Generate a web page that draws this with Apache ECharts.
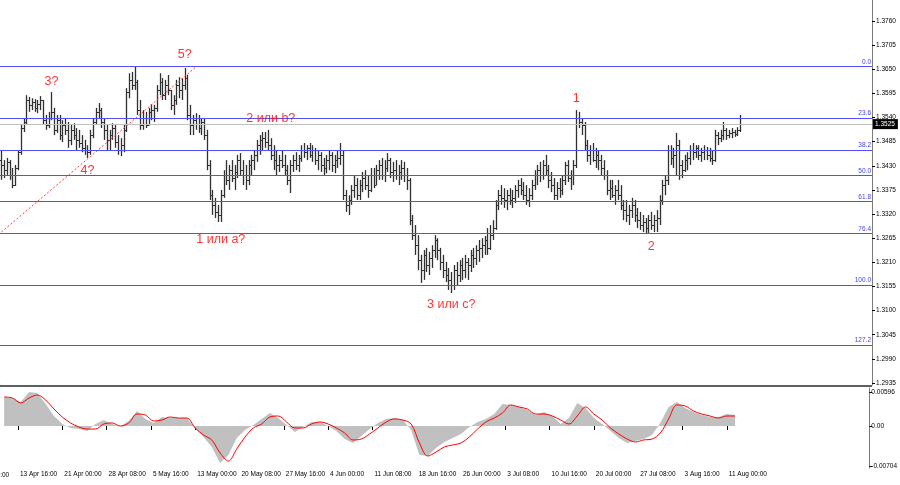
<!DOCTYPE html>
<html><head><meta charset="utf-8">
<script src="https://cdn.jsdelivr.net/npm/echarts@6/dist/echarts.min.js"></script>
<style>html,body{margin:0;padding:0;background:#fff}#c{width:900px;height:485px}</style>
</head><body><div id="c"></div><script>
// ---- price bars (8h bars) ----
const open=[1.3443,1.3432,1.3420,1.3439,1.3409,1.3386,1.3425,1.3461,1.3516,1.3530,
1.3580,1.3569,1.3575,1.3562,1.3571,1.3580,1.3534,1.3523,1.3539,1.3553,
1.3512,1.3534,1.3500,1.3523,1.3512,1.3489,1.3512,1.3500,1.3489,1.3482,
1.3471,1.3466,1.3461,1.3500,1.3530,1.3553,1.3557,1.3530,1.3512,1.3489,
1.3500,1.3516,1.3484,1.3466,1.3477,1.3512,1.3598,1.3626,1.3614,1.3621,
1.3557,1.3523,1.3539,1.3523,1.3553,1.3557,1.3562,1.3603,1.3621,1.3591,
1.3614,1.3603,1.3569,1.3580,1.3614,1.3603,1.3614,1.3630,1.3546,1.3523,
1.3534,1.3539,1.3516,1.3530,1.3500,1.3432,1.3363,1.3341,1.3325,1.3318,
1.3363,1.3409,1.3398,1.3420,1.3402,1.3416,1.3443,1.3420,1.3409,1.3398,
1.3432,1.3443,1.3455,1.3477,1.3489,1.3493,1.3484,1.3477,1.3455,1.3443,
1.3432,1.3443,1.3432,1.3420,1.3398,1.3432,1.3443,1.3432,1.3448,1.3466,
1.3461,1.3471,1.3455,1.3466,1.3443,1.3455,1.3432,1.3425,1.3443,1.3455,
1.3432,1.3443,1.3448,1.3455,1.3363,1.3341,1.3352,1.3375,1.3386,1.3363,
1.3386,1.3402,1.3386,1.3375,1.3409,1.3386,1.3420,1.3432,1.3409,1.3425,
1.3443,1.3416,1.3420,1.3409,1.3416,1.3425,1.3409,1.3398,1.3306,1.3272,
1.3249,1.3215,1.3192,1.3227,1.3204,1.3220,1.3238,1.3261,1.3238,1.3211,
1.3192,1.3181,1.3170,1.3158,1.3192,1.3181,1.3204,1.3192,1.3211,1.3204,
1.3227,1.3220,1.3238,1.3243,1.3249,1.3261,1.3243,1.3272,1.3288,1.3341,
1.3363,1.3357,1.3352,1.3363,1.3352,1.3357,1.3375,1.3386,1.3375,1.3363,
1.3352,1.3363,1.3386,1.3409,1.3420,1.3409,1.3432,1.3420,1.3398,1.3386,
1.3363,1.3379,1.3375,1.3398,1.3432,1.3402,1.3409,1.3432,1.3539,1.3530,
1.3523,1.3477,1.3455,1.3466,1.3443,1.3455,1.3443,1.3425,1.3409,1.3375,
1.3379,1.3363,1.3375,1.3363,1.3341,1.3329,1.3318,1.3329,1.3341,1.3318,
1.3306,1.3295,1.3302,1.3288,1.3306,1.3295,1.3306,1.3311,1.3352,1.3386,
1.3398,1.3466,1.3448,1.3455,1.3477,1.3432,1.3420,1.3443,1.3448,1.3466,
1.3461,1.3471,1.3455,1.3461,1.3466,1.3455,1.3448,1.3443,1.3500,1.3493,
1.3500,1.3512,1.3500,1.3505,1.3507,1.3502,1.3512];
const high=[1.3466,1.3443,1.3448,1.3443,1.3425,1.3432,1.3466,1.3523,1.3539,1.3591,
1.3587,1.3584,1.3582,1.3580,1.3589,1.3580,1.3546,1.3553,1.3598,1.3562,
1.3546,1.3546,1.3534,1.3539,1.3530,1.3523,1.3527,1.3516,1.3512,1.3500,
1.3489,1.3477,1.3512,1.3539,1.3562,1.3573,1.3562,1.3539,1.3523,1.3512,
1.3527,1.3523,1.3500,1.3493,1.3523,1.3607,1.3641,1.3644,1.3657,1.3626,
1.3580,1.3557,1.3553,1.3562,1.3571,1.3569,1.3614,1.3641,1.3630,1.3626,
1.3637,1.3603,1.3591,1.3626,1.3632,1.3630,1.3653,1.3637,1.3569,1.3546,
1.3550,1.3546,1.3539,1.3539,1.3512,1.3443,1.3375,1.3357,1.3341,1.3375,
1.3420,1.3443,1.3432,1.3443,1.3432,1.3455,1.3459,1.3443,1.3432,1.3443,
1.3455,1.3466,1.3489,1.3500,1.3507,1.3507,1.3512,1.3493,1.3477,1.3466,
1.3455,1.3466,1.3455,1.3432,1.3443,1.3455,1.3461,1.3455,1.3477,1.3482,
1.3477,1.3482,1.3477,1.3471,1.3466,1.3461,1.3448,1.3455,1.3466,1.3461,
1.3455,1.3466,1.3482,1.3466,1.3375,1.3363,1.3386,1.3409,1.3402,1.3398,
1.3416,1.3420,1.3409,1.3425,1.3425,1.3432,1.3443,1.3448,1.3443,1.3459,
1.3448,1.3439,1.3443,1.3432,1.3443,1.3439,1.3425,1.3402,1.3318,1.3295,
1.3272,1.3227,1.3238,1.3243,1.3234,1.3249,1.3272,1.3265,1.3243,1.3227,
1.3211,1.3197,1.3188,1.3204,1.3211,1.3215,1.3220,1.3227,1.3220,1.3238,
1.3243,1.3249,1.3261,1.3265,1.3270,1.3288,1.3295,1.3306,1.3352,1.3375,
1.3386,1.3379,1.3375,1.3379,1.3375,1.3386,1.3398,1.3402,1.3393,1.3386,
1.3379,1.3398,1.3420,1.3432,1.3439,1.3443,1.3455,1.3432,1.3416,1.3402,
1.3393,1.3402,1.3409,1.3439,1.3443,1.3420,1.3443,1.3557,1.3553,1.3539,
1.3530,1.3489,1.3477,1.3482,1.3471,1.3466,1.3455,1.3443,1.3420,1.3398,
1.3398,1.3386,1.3398,1.3386,1.3352,1.3352,1.3341,1.3357,1.3352,1.3334,
1.3325,1.3318,1.3311,1.3318,1.3325,1.3318,1.3329,1.3363,1.3398,1.3409,
1.3477,1.3477,1.3471,1.3505,1.3489,1.3443,1.3455,1.3461,1.3477,1.3482,
1.3477,1.3477,1.3471,1.3477,1.3473,1.3471,1.3466,1.3512,1.3507,1.3512,
1.3530,1.3516,1.3512,1.3516,1.3512,1.3518,1.3546];
const low=[1.3398,1.3402,1.3409,1.3398,1.3379,1.3384,1.3420,1.3455,1.3507,1.3523,
1.3553,1.3557,1.3553,1.3550,1.3557,1.3523,1.3512,1.3516,1.3534,1.3500,
1.3505,1.3489,1.3484,1.3500,1.3471,1.3477,1.3489,1.3466,1.3471,1.3461,
1.3455,1.3448,1.3455,1.3493,1.3523,1.3539,1.3516,1.3489,1.3466,1.3466,
1.3489,1.3471,1.3455,1.3452,1.3461,1.3507,1.3584,1.3603,1.3603,1.3546,
1.3512,1.3512,1.3516,1.3523,1.3534,1.3530,1.3553,1.3591,1.3580,1.3580,
1.3591,1.3557,1.3546,1.3569,1.3584,1.3580,1.3603,1.3534,1.3500,1.3500,
1.3512,1.3505,1.3500,1.3489,1.3420,1.3352,1.3318,1.3311,1.3302,1.3302,
1.3357,1.3386,1.3375,1.3393,1.3375,1.3402,1.3409,1.3386,1.3375,1.3386,
1.3409,1.3420,1.3439,1.3455,1.3466,1.3471,1.3466,1.3443,1.3420,1.3409,
1.3416,1.3425,1.3409,1.3386,1.3368,1.3416,1.3420,1.3416,1.3439,1.3448,
1.3443,1.3448,1.3439,1.3432,1.3420,1.3416,1.3409,1.3413,1.3420,1.3416,
1.3413,1.3425,1.3432,1.3352,1.3325,1.3318,1.3341,1.3357,1.3352,1.3352,
1.3370,1.3375,1.3357,1.3370,1.3379,1.3386,1.3398,1.3398,1.3393,1.3416,
1.3402,1.3393,1.3398,1.3386,1.3398,1.3393,1.3375,1.3295,1.3261,1.3227,
1.3192,1.3163,1.3170,1.3188,1.3181,1.3197,1.3220,1.3215,1.3192,1.3174,
1.3165,1.3147,1.3140,1.3147,1.3158,1.3165,1.3170,1.3174,1.3170,1.3188,
1.3197,1.3204,1.3211,1.3220,1.3227,1.3227,1.3238,1.3261,1.3284,1.3329,
1.3341,1.3334,1.3329,1.3341,1.3334,1.3345,1.3357,1.3363,1.3352,1.3341,
1.3336,1.3352,1.3375,1.3386,1.3393,1.3398,1.3409,1.3379,1.3370,1.3352,
1.3352,1.3357,1.3363,1.3386,1.3393,1.3375,1.3386,1.3425,1.3516,1.3500,
1.3466,1.3439,1.3432,1.3439,1.3425,1.3420,1.3409,1.3398,1.3363,1.3352,
1.3357,1.3341,1.3352,1.3329,1.3306,1.3302,1.3295,1.3311,1.3302,1.3288,
1.3284,1.3279,1.3277,1.3277,1.3284,1.3279,1.3279,1.3295,1.3341,1.3363,
1.3386,1.3432,1.3425,1.3409,1.3398,1.3402,1.3416,1.3420,1.3432,1.3443,
1.3448,1.3443,1.3439,1.3443,1.3443,1.3439,1.3432,1.3439,1.3477,1.3484,
1.3489,1.3489,1.3493,1.3493,1.3496,1.3498,1.3507];
const close=[1.3432,1.3420,1.3439,1.3409,1.3386,1.3425,1.3461,1.3516,1.3530,1.3580,
1.3569,1.3575,1.3562,1.3571,1.3580,1.3534,1.3523,1.3539,1.3553,1.3512,
1.3534,1.3500,1.3523,1.3512,1.3489,1.3512,1.3500,1.3489,1.3482,1.3471,
1.3466,1.3461,1.3500,1.3530,1.3553,1.3557,1.3530,1.3512,1.3489,1.3500,
1.3516,1.3484,1.3466,1.3477,1.3512,1.3598,1.3626,1.3614,1.3621,1.3557,
1.3523,1.3539,1.3523,1.3553,1.3557,1.3562,1.3603,1.3621,1.3591,1.3614,
1.3603,1.3569,1.3580,1.3614,1.3603,1.3614,1.3630,1.3546,1.3523,1.3534,
1.3539,1.3516,1.3530,1.3500,1.3432,1.3363,1.3341,1.3325,1.3318,1.3363,
1.3409,1.3398,1.3420,1.3402,1.3416,1.3443,1.3420,1.3409,1.3398,1.3432,
1.3443,1.3455,1.3477,1.3489,1.3493,1.3484,1.3477,1.3455,1.3443,1.3432,
1.3443,1.3432,1.3420,1.3398,1.3432,1.3443,1.3432,1.3448,1.3466,1.3461,
1.3471,1.3455,1.3466,1.3443,1.3455,1.3432,1.3425,1.3443,1.3455,1.3432,
1.3443,1.3448,1.3455,1.3363,1.3341,1.3352,1.3375,1.3386,1.3363,1.3386,
1.3402,1.3386,1.3375,1.3409,1.3386,1.3420,1.3432,1.3409,1.3425,1.3443,
1.3416,1.3420,1.3409,1.3416,1.3425,1.3409,1.3398,1.3306,1.3272,1.3249,
1.3215,1.3192,1.3227,1.3204,1.3220,1.3238,1.3261,1.3238,1.3211,1.3192,
1.3181,1.3170,1.3158,1.3192,1.3181,1.3204,1.3192,1.3211,1.3204,1.3227,
1.3220,1.3238,1.3243,1.3249,1.3261,1.3243,1.3272,1.3288,1.3341,1.3363,
1.3357,1.3352,1.3363,1.3352,1.3357,1.3375,1.3386,1.3375,1.3363,1.3352,
1.3363,1.3386,1.3409,1.3420,1.3409,1.3432,1.3420,1.3398,1.3386,1.3363,
1.3379,1.3375,1.3398,1.3432,1.3402,1.3409,1.3432,1.3539,1.3530,1.3523,
1.3477,1.3455,1.3466,1.3443,1.3455,1.3443,1.3425,1.3409,1.3375,1.3379,
1.3363,1.3375,1.3363,1.3341,1.3329,1.3318,1.3329,1.3341,1.3318,1.3306,
1.3295,1.3302,1.3288,1.3306,1.3295,1.3306,1.3311,1.3352,1.3386,1.3398,
1.3466,1.3448,1.3455,1.3477,1.3432,1.3420,1.3443,1.3448,1.3466,1.3461,
1.3471,1.3455,1.3461,1.3466,1.3455,1.3448,1.3443,1.3500,1.3493,1.3500,
1.3512,1.3500,1.3505,1.3507,1.3502,1.3512,1.3525];

// ---- axes / levels ----
const priceTicks=[1.2935,1.2990,1.3045,1.3100,1.3155,1.3210,1.3265,1.3320,1.3375,1.3430,1.3485,1.3540,1.3595,1.3650,1.3705,1.3760];
const fibLabels=['0.0','23.6','38.2','50.0','61.8','76.4','100.0','127.2'];
const fibPrices=[1.3657,1.3539,1.3466,1.3408,1.3349,1.3276,1.3158,1.3022];
const lastPrice=1.3525;

// ---- MACD (one value per day = every 3rd 8h bar) ----
const macdHist=[0.00508,0.00491,0.00421,0.00596,0.00578,0.00386,0.00175,0.00035,-0.00035,-0.00053,
-0.00088,0.00035,0.00105,0.00035,0,0.00088,0.00263,0.00123,0.00053,0.00158,
0.00140,0.00140,0.00140,-0.00035,-0.00193,-0.00368,-0.00649,-0.00508,-0.00210,-0.00070,
0.00018,0.00123,0.00228,0.00140,0.00018,-0.00105,-0.00018,0.00070,0.00070,0,
-0.00088,-0.00228,-0.00298,-0.00175,-0.00053,0.00053,0.00123,0.00140,0.00105,-0.00070,
-0.00508,-0.00526,-0.00386,-0.00280,-0.00210,-0.00140,-0.00018,0.00070,0.00123,0.00210,
0.00386,0.00368,0.00333,0.00280,0.00193,0.00245,0.00175,0.00035,0.00140,0.00403,
0.00316,0.00140,0.00035,-0.00088,-0.00210,-0.00298,-0.00263,-0.00228,-0.00158,0.00053,
0.00333,0.00421,0.00316,0.00245,0.00193,0.00158,0.00158,0.00210,0.00193];
const macdSignal=[0.00508,0.00491,0.00403,0.00491,0.00543,0.00456,0.00298,0.00158,0.00053,-0.00018,
-0.00053,-0.00053,0.00035,0.00053,0,0.00053,0.00210,0.00193,0.00088,0.00105,
0.00158,0.00140,0.00140,-0.00035,-0.00158,-0.00245,-0.00473,-0.00614,-0.00403,-0.00193,
-0.00035,0.00035,0.00158,0.00175,0.00070,-0.00035,-0.00035,0.00035,0.00070,0.00035,
-0.00035,-0.00123,-0.00245,-0.00228,-0.00140,-0.00035,0.00070,0.00123,0.00105,0.00035,
-0.00298,-0.00526,-0.00456,-0.00368,-0.00333,-0.00298,-0.00193,-0.00053,0.00070,0.00140,
0.00228,0.00368,0.00333,0.00298,0.00210,0.00210,0.00175,0.00105,0.00035,0.00175,
0.00333,0.00210,0.00105,-0.00035,-0.00140,-0.00228,-0.00280,-0.00245,-0.00228,-0.00123,
0.00123,0.00368,0.00351,0.00263,0.00210,0.00175,0.00140,0.00175,0.00175];
const macdTicks=[-0.00704,0,0.00596];

// ---- annotations ----
const waveText=['3?','4?','5?','1 или а?','2 или b?','3 или с?','1','2'];
const waveBar=[18,31,66,79,97,162,207,234];
const wavePrice=[1.3621,1.3420,1.3683,1.3261,1.3537,1.3113,1.3584,1.3245];
const trendBar=[0,70];
const trendPrice=[1.3279,1.3655];
const leftCutLabel='6 Apr 08:00';

// ---- categories: 8h trading bars ----
const MON=['Jan','Feb','Mar','Apr','May','Jun','Jul','Aug','Sep','Oct','Nov','Dec'];
const NCAT=314;
const LAST_LABEL=262;
const cats=[];
let t=Date.UTC(2020,3,9,16);
while(cats.length<NCAT){
  const d=new Date(t), wd=d.getUTCDay();
  if(wd!==0&&wd!==6) cats.push(d.getUTCDate()+' '+MON[d.getUTCMonth()]+' '+String(d.getUTCHours()).padStart(2,'0')+':00');
  t+=8*3600e3;
}
const showLab=(i)=>i<=LAST_LABEL&&(i-6)%16===0;

const barData=close.map((c,i)=>[i,open[i],c,low[i],high[i]]);
const FONT='Liberation Sans';

const chart=echarts.init(document.getElementById('c'),null,{renderer:'canvas'});
chart.setOption({
  animation:false,
  backgroundColor:'#fff',
  grid:[{left:0,right:28,top:0,height:385},{left:0,right:28,top:388,height:80}],
  xAxis:[
    {type:'category',gridIndex:0,data:cats,boundaryGap:true,show:false},
    {type:'category',gridIndex:1,data:cats,boundaryGap:true,
      axisLine:{show:false},
      axisTick:{show:true,alignWithLabel:true,interval:showLab,length:4,lineStyle:{color:'#000'}},
      axisLabel:{interval:showLab,align:'left',fontSize:6.5,color:'#000',margin:3,fontFamily:FONT,padding:[0,0,0,2]},
      splitLine:{show:false}}
  ],
  yAxis:[
    {type:'value',gridIndex:0,position:'right',min:1.29304,max:1.38079,
      axisLine:{show:true,lineStyle:{color:'#7a7a7a'}},
      axisTick:{show:true,length:3,customValues:priceTicks,lineStyle:{color:'#000'}},
      axisLabel:{customValues:priceTicks,formatter:v=>v.toFixed(4),fontSize:6.5,color:'#000',margin:4,fontFamily:FONT},
      splitLine:{show:false}},
    {type:'value',gridIndex:1,position:'right',min:-0.007363,max:0.006661,
      axisLine:{show:true,lineStyle:{color:'#7a7a7a'}},
      axisTick:{show:true,length:3,customValues:macdTicks,lineStyle:{color:'#000'}},
      axisLabel:{customValues:macdTicks,formatter:v=>v===0?'0.00':v.toFixed(5),fontSize:6.5,color:'#000',margin:2,fontFamily:FONT},
      splitLine:{show:false}}
  ],
  series:[
    {type:'line',xAxisIndex:0,yAxisIndex:0,z:1,symbol:'none',silent:true,data:[],
      markLine:{silent:true,symbol:'none',animation:false,precision:5,
        lineStyle:{color:'#c0c0c0',width:1,type:'solid'},
        label:{show:true,position:'end',distance:1,formatter:()=>lastPrice.toFixed(4),backgroundColor:'#000',color:'#fff',padding:[2,3,1,2],fontSize:6.5,fontFamily:FONT},
        data:[{yAxis:lastPrice}]}},
    {type:'line',xAxisIndex:0,yAxisIndex:0,z:2,symbol:'none',silent:true,data:[],
      markLine:{silent:true,symbol:'none',animation:false,precision:5,
        lineStyle:{color:'#5050ff',width:1.2,type:'solid'},
        label:{show:true,position:'insideEndTop',distance:[1,1],color:'#4040ff',fontSize:6.5,fontFamily:FONT},
        data:fibPrices.map((p,k)=>({yAxis:p,label:{formatter:fibLabels[k]}}))}},
    {type:'custom',xAxisIndex:0,yAxisIndex:0,z:3,silent:true,
      encode:{x:0,y:[1,2,3,4]},
      data:barData,
      renderItem:function(params,api){
        const i=api.value(0);
        const pO=api.coord([i,api.value(1)]), pC=api.coord([i,api.value(2)]);
        const pL=api.coord([i,api.value(3)]), pH=api.coord([i,api.value(4)]);
        const x=Math.round(pH[0])+0.5;
        const top=Math.min(pH[1],pO[1],pC[1]), bot=Math.max(pL[1],pO[1],pC[1]);
        const yo=Math.round(pO[1])+0.5, yc=Math.round(pC[1])+0.5;
        const st={stroke:'#303030',lineWidth:1.3};
        const tk={stroke:'#303030',lineWidth:1};
        return {type:'group',children:[
          {type:'line',shape:{x1:x,y1:top,x2:x,y2:bot},style:st},
          {type:'line',shape:{x1:x-1.5,y1:yo,x2:x,y2:yo},style:tk},
          {type:'line',shape:{x1:x,y1:yc,x2:x+1.5,y2:yc},style:tk}
        ]};
      }},
    {type:'line',xAxisIndex:0,yAxisIndex:0,z:4,symbol:'none',silent:true,
      data:trendBar.map((b,k)=>[b,trendPrice[k]]),
      lineStyle:{color:'#ff3b3b',width:1,type:[2,2]}},
    {type:'scatter',xAxisIndex:0,yAxisIndex:0,z:5,symbolSize:0,silent:true,
      data:waveText.map((s,k)=>({value:[waveBar[k],wavePrice[k]],label:{formatter:s}})),
      label:{show:true,position:'inside',color:'#ff0000',fontSize:12.5,fontFamily:FONT}},
    {type:'line',xAxisIndex:1,yAxisIndex:1,z:2,symbol:'none',silent:true,
      data:macdHist.map((v,k)=>[3*k+1,v]),
      lineStyle:{width:0,opacity:0},areaStyle:{color:'#c0c0c0',opacity:1,origin:0}},
    {type:'line',xAxisIndex:1,yAxisIndex:1,z:3,symbol:'none',silent:true,smooth:0.35,
      data:macdSignal.map((v,k)=>[3*k+1,v]),
      lineStyle:{color:'#ff0000',width:1}}
  ]
});
// separator between the price window and the MACD window, and the clipped label at the left edge
const band=872/NCAT;
const firstTickX=chart.convertToPixel({xAxisIndex:1},6);
chart.setOption({graphic:[
  {type:'rect',shape:{x:0,y:385,width:872,height:2},style:{fill:'#5f5f5f'},silent:true,z:100},
  {type:'text',x:firstTickX-16*band+2,y:472,style:{text:leftCutLabel,fontSize:6.5,fill:'#000',fontFamily:FONT},silent:true}
]});
</script></body></html>
